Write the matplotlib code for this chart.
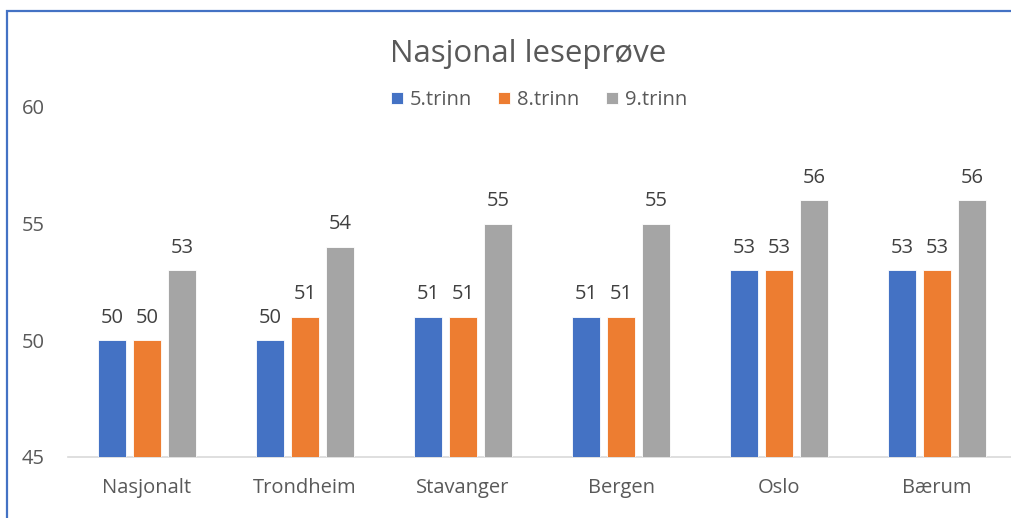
import numpy as np
import matplotlib
matplotlib.use("Agg")
import matplotlib.pyplot as plt
from matplotlib.patches import Rectangle

plt.rcParams["font.family"] = ["Open Sans", "DejaVu Sans"]

# data
categories = ["Nasjonalt", "Trondheim", "Stavanger", "Bergen", "Oslo", "Bærum"]
series_names = ["5.trinn", "8.trinn", "9.trinn"]
trinn5 = [50, 50, 51, 51, 53, 53]
trinn8 = [50, 51, 51, 51, 53, 53]
trinn9 = [53, 54, 55, 55, 56, 56]
colors = ["#4472C4", "#ED7D31", "#A5A5A5"]

W, H = 1011, 518
fig = plt.figure(figsize=(W / 100, H / 100), dpi=100)
ax = fig.add_axes([68 / W, 1 - 457 / H, (1016 - 68) / W, (457 - 107) / H])

x = np.arange(len(categories))
bw = 0.177
step = 0.222
for i, (vals, name, c) in enumerate(zip([trinn5, trinn8, trinn9], series_names, colors)):
    pos = x + (i - 1) * step
    ax.bar(pos, np.array(vals) - 45, bottom=45, width=bw, color=c,
           edgecolor="white", linewidth=0.6, label=name, zorder=3)
    for p, v in zip(pos, vals):
        ax.text(p, v + 0.55, str(v), ha="center", va="bottom",
                fontsize=14.5, color="#404040")

ax.set_xlim(-0.5, len(categories) - 0.5)
ax.set_ylim(45, 60)
ax.set_yticks([45, 50, 55, 60])
ax.set_xticks(x)
ax.set_xticklabels(categories)
ax.tick_params(axis="both", length=0, labelsize=14.5, labelcolor="#595959")
ax.tick_params(axis="y", pad=17)
ax.tick_params(axis="x", pad=15)
for s in ["top", "right", "left"]:
    ax.spines[s].set_visible(False)
ax.spines["bottom"].set_color("#D9D9D9")
ax.spines["bottom"].set_linewidth(1.2)

fig.text(528 / W, 1 - 54 / H, "Nasjonal leseprøve", ha="center", va="center",
         fontsize=22.5, color="#595959")
ax.legend(loc="center", bbox_to_anchor=(539 / W, 1 - 100 / H),
          bbox_transform=fig.transFigure, ncol=3, frameon=False,
          fontsize=14.5, labelcolor="#595959", handlelength=0.6,
          handleheight=0.6, handletextpad=0.35, columnspacing=1.3)

# blue frame of the screenshot
fig.patches.append(Rectangle((7 / W, -0.1), 1.2, 1 - 11 / H + 0.1,
                             transform=fig.transFigure, fill=False,
                             edgecolor="#4472C4", linewidth=1.6))

fig.savefig("out.png", dpi=100)
